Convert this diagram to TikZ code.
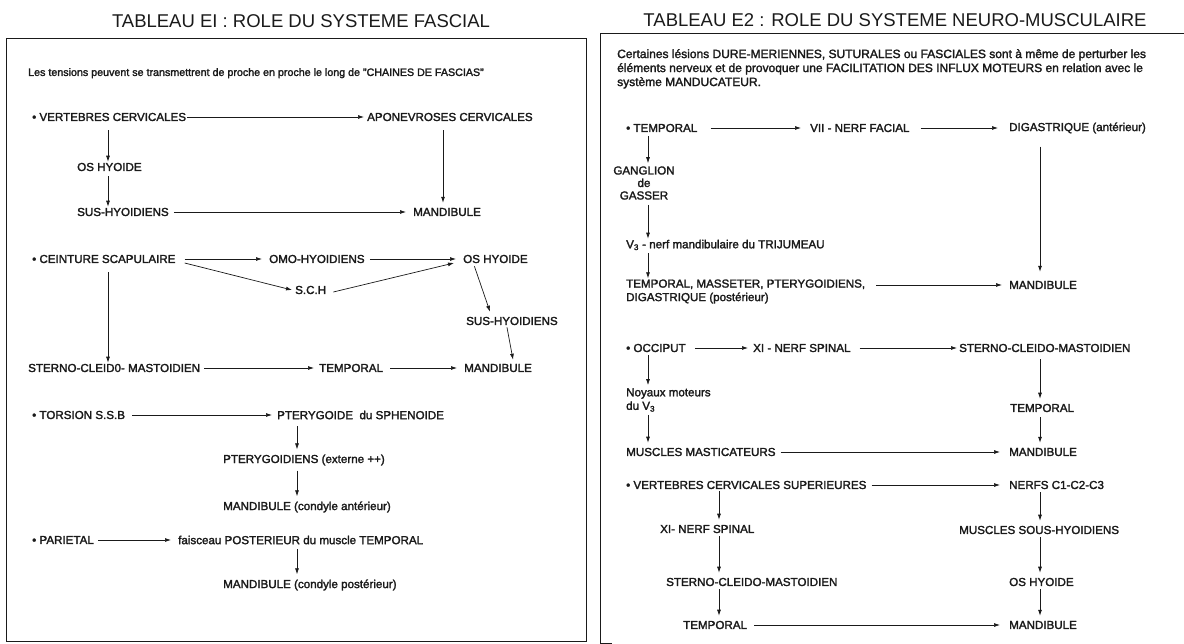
\documentclass[tikz,border=0pt]{standalone}
\usepackage{fontspec}
\setmainfont{Liberation Sans}[BoldFont={Liberation Sans}, BoldFeatures={FakeBold=2}]
\usetikzlibrary{arrows.meta,calc}
\definecolor{ink}{HTML}{1A1A1A}
\begin{document}
\begin{tikzpicture}[x=1pt,y=-1pt,
  txt/.style={font=\bfseries\fontsize{11.6}{13.5}\selectfont, inner sep=1pt, anchor=west, text=ink, align=left},
  para/.style={font=\bfseries\fontsize{11}{14}\selectfont, inner sep=0pt, anchor=north west, text=ink, align=left},
  arr/.style={draw=ink, line width=0.7pt, -{Latex[length=6pt,width=4pt]}},
  frm/.style={draw=ink, line width=1pt},
  ttl/.style={font=\fontsize{18.5}{20}\selectfont, text=ink, inner sep=0pt}]
\useasboundingbox (0,0) rectangle (1184,644);
\fill[white] (0,0) rectangle (1184,644);

% ---------- columns ----------
\coordinate (cA) at (108,0);
\coordinate (cB) at (443,0);
\coordinate (cC) at (297,0);
\coordinate (cD) at (648,0);
\coordinate (cE) at (1040,0);
\coordinate (cF) at (719,0);

% ---------- left panel ----------
\node[ttl] (t1) at (301,21) {TABLEAU EI : ROLE DU SYSTEME FASCIAL};
\draw[frm] (6,39) rectangle (586,641);
\node[para, font=\bfseries\fontsize{10.7}{14}\selectfont] (p1) at (28,68) {Les tensions peuvent se transmettrent de proche en proche le long de "CHAINES DE FASCIAS"};

\node[txt] (vc) at (31,117) {• VERTEBRES CERVICALES};
\node[txt] (apo) at (366,117) {APONEVROSES CERVICALES};
\node[txt] (oh1) at (76,167) {OS HYOIDE};
\node[txt] (sh1) at (76,212) {SUS-HYOIDIENS};
\node[txt] (md1) at (412,212) {MANDIBULE};

\node[txt] (cs) at (31,259) {• CEINTURE SCAPULAIRE};
\node[txt] (omo) at (268,259) {OMO-HYOIDIENS};
\node[txt] (oh2) at (462,259) {OS HYOIDE};
\node[txt] (sch) at (294,290) {S.C.H};
\node[txt] (sh2) at (465,321) {SUS-HYOIDIENS};
\node[txt] (scm1) at (27,368) {STERNO-CLEID0- MASTOIDIEN};
\node[txt] (tp1) at (318,368) {TEMPORAL};
\node[txt] (md2) at (463,368) {MANDIBULE};

\node[txt] (tor) at (31,415) {• TORSION S.S.B};
\node[txt] (pte) at (276,415) {PTERYGOIDE\ \ du SPHENOIDE};
\node[txt] (pts) at (222,460) {PTERYGOIDIENS (externe ++)};
\node[txt] (mca) at (222,507) {MANDIBULE (condyle antérieur)};
\node[txt] (par) at (31,540) {• PARIETAL};
\node[txt] (fai) at (177,540) {faisceau POSTERIEUR du muscle TEMPORAL};
\node[txt] (mcp) at (222,585) {MANDIBULE (condyle postérieur)};

\draw[arr] (vc.east) -- ([xshift=-2pt]apo.west);
\draw[arr] ([yshift=-8pt]vc.south -| cA) -- (oh1.north -| cA);
\draw[arr] ([yshift=-4pt]oh1.south -| cA) -- (sh1.north -| cA);
\draw[arr] ([xshift=4pt]sh1.east) -- ([xshift=-6pt]md1.west);
\draw[arr] ([yshift=-8pt]apo.south -| cB) -- ([yshift=4pt]md1.north -| cB);

\draw[arr] ([xshift=8pt]cs.east) -- ([xshift=-6pt]omo.west);
\draw[arr] ([xshift=4pt]omo.east) -- ([xshift=-6pt]oh2.west);
\draw[arr] ([xshift=8pt,yshift=-4pt]cs.east) -- ([xshift=-2pt]sch.west);
\draw[arr] ([xshift=6pt,yshift=-2pt]sch.east) -- ([xshift=-8pt,yshift=-4pt]oh2.west);
\draw[arr] ([xshift=-21pt,yshift=-2pt]oh2.south) -- ([xshift=-22pt,yshift=4pt]sh2.north);
\draw[arr] ([xshift=-5pt,yshift=-1pt]sh2.south) -- ([xshift=15pt,yshift=3pt]md2.north);
\draw[arr] ([yshift=-8pt]cs.south -| cA) -- (scm1.north -| cA);
\draw[arr] ([xshift=3pt]scm1.east) -- ([xshift=-4pt]tp1.west);
\draw[arr] ([xshift=6pt]tp1.east) -- ([xshift=-6pt]md2.west);

\draw[arr] ([xshift=6pt]tor.east) -- ([xshift=-4pt]pte.west);
\draw[arr] ([yshift=-6pt]pte.south -| cC) -- ([yshift=4pt]pts.north -| cC);
\draw[arr] ([yshift=-4pt]pts.south -| cC) -- ([yshift=4pt]mca.north -| cC);
\draw[arr] ([xshift=3pt]par.east) -- ([xshift=-6pt]fai.west);
\draw[arr] ([yshift=-4pt]fai.south -| cC) -- ([yshift=4pt]mcp.north -| cC);

% ---------- right panel ----------
\node[ttl] (t2) at (895,20) {TABLEAU E2 : ROLE DU SYSTEME NEURO-MUSCULAIRE};
\draw[frm] (1184,34) -- (600,34) -- (600,643) -- (612,643);
\node[para, font=\bfseries\fontsize{12}{14}\selectfont] (p2) at (617,49) {Certaines lésions DURE-MERIENNES, SUTURALES ou FASCIALES sont à même de perturber les\\éléments nerveux et de provoquer une FACILITATION DES INFLUX MOTEURS en relation avec le\\système MANDUCATEUR.};

\node[txt] (rt) at (625,128) {• TEMPORAL};
\node[txt] (vii) at (809,128) {VII - NERF FACIAL};
\node[txt] (dig) at (1008,128) {DIGASTRIQUE (antérieur)};
\node[txt, anchor=center, align=center, font=\bfseries\fontsize{11.6}{12.5}\selectfont] (gg) at (644,183) {GANGLION\\de\\GASSER};
\node[txt] (v3) at (625,245) {V\textsubscript{3} - nerf mandibulaire du TRIJUMEAU};
\node[txt] (tmp) at (625,291.5) {TEMPORAL, MASSETER, PTERYGOIDIENS,\\DIGASTRIQUE (postérieur)};
\node[txt] (m3) at (1008,285) {MANDIBULE};

\node[txt] (occ) at (625,348) {• OCCIPUT};
\node[txt] (xi) at (752,348) {XI - NERF SPINAL};
\node[txt] (scm2) at (958,348) {STERNO-CLEIDO-MASTOIDIEN};
\node[txt] (noy) at (625,400) {Noyaux moteurs\\du V\textsubscript{3}};
\node[txt] (tp2) at (1009,408) {TEMPORAL};
\node[txt] (mm) at (625,452) {MUSCLES MASTICATEURS};
\node[txt] (m4) at (1008,452) {MANDIBULE};

\node[txt] (vcs) at (625,485) {• VERTEBRES CERVICALES SUPERIEURES};
\node[txt] (c13) at (1008,485) {NERFS C1-C2-C3};
\node[txt] (xi2) at (659,529) {XI- NERF SPINAL};
\node[txt] (msh) at (958,530) {MUSCLES SOUS-HYOIDIENS};
\node[txt] (scm3) at (665,582) {STERNO-CLEIDO-MASTOIDIEN};
\node[txt] (oh3) at (1008,582) {OS HYOIDE};
\node[txt] (tp3) at (682,625) {TEMPORAL};
\node[txt] (m5) at (1008,625) {MANDIBULE};

\draw[arr] ([xshift=12pt]rt.east) -- ([xshift=-8pt]vii.west);
\draw[arr] ([xshift=10pt]vii.east) -- ([xshift=-10pt]dig.west);
\draw[arr] ([yshift=-3pt]rt.south -| cD) -- ([yshift=2pt]gg.north -| cD);
\draw[arr] ([yshift=-12pt]dig.south -| cE) -- ([yshift=8pt]m3.north -| cE);
\draw[arr] ([yshift=-4pt]gg.south -| cD) -- (v3.north -| cD);
\draw[arr] ([yshift=-2pt]v3.south -| cD) -- (tmp.north -| cD);
\draw[arr] ([xshift=10pt]tmp.east |- m3.west) -- ([xshift=-6pt]m3.west);

\draw[arr] ([xshift=8pt]occ.east) -- ([xshift=-4pt]xi.west);
\draw[arr] ([xshift=8pt]xi.east) -- ([xshift=-1pt]scm2.west);
\draw[arr] ([yshift=-2pt]occ.south -| cD) -- ([yshift=2pt]noy.north -| cD);
\draw[arr] ([yshift=-6pt]scm2.south -| cE) -- ([yshift=4pt]tp2.north -| cE);
\draw[arr] ([yshift=-4pt]tp2.south -| cE) -- ([yshift=4pt]m4.north -| cE);
\draw[arr] ([yshift=-2pt]noy.south -| cD) -- ([yshift=4pt]mm.north -| cD);
\draw[arr] ([xshift=4pt]mm.east) -- ([xshift=-8pt]m4.west);

\draw[arr] ([xshift=4pt]vcs.east) -- ([xshift=-8pt]c13.west);
\draw[arr] ([yshift=-1pt]vcs.south -| cF) -- ([yshift=4pt]xi2.north -| cF);
\draw[arr] ([yshift=-2pt]xi2.south -| cF) -- ([yshift=4pt]scm3.north -| cF);
\draw[arr] ([yshift=-2pt]scm3.south -| cF) -- ([yshift=4pt]tp3.north -| cF);
\draw[arr] ([xshift=6pt]tp3.east) -- ([xshift=-8pt]m5.west);
\draw[arr] ([yshift=-2pt]c13.south -| cE) -- ([yshift=4pt]msh.north -| cE);
\draw[arr] ([yshift=-2pt]msh.south -| cE) -- ([yshift=4pt]oh3.north -| cE);
\draw[arr] ([yshift=-2pt]oh3.south -| cE) -- ([yshift=4pt]m5.north -| cE);
\end{tikzpicture}
\end{document}
